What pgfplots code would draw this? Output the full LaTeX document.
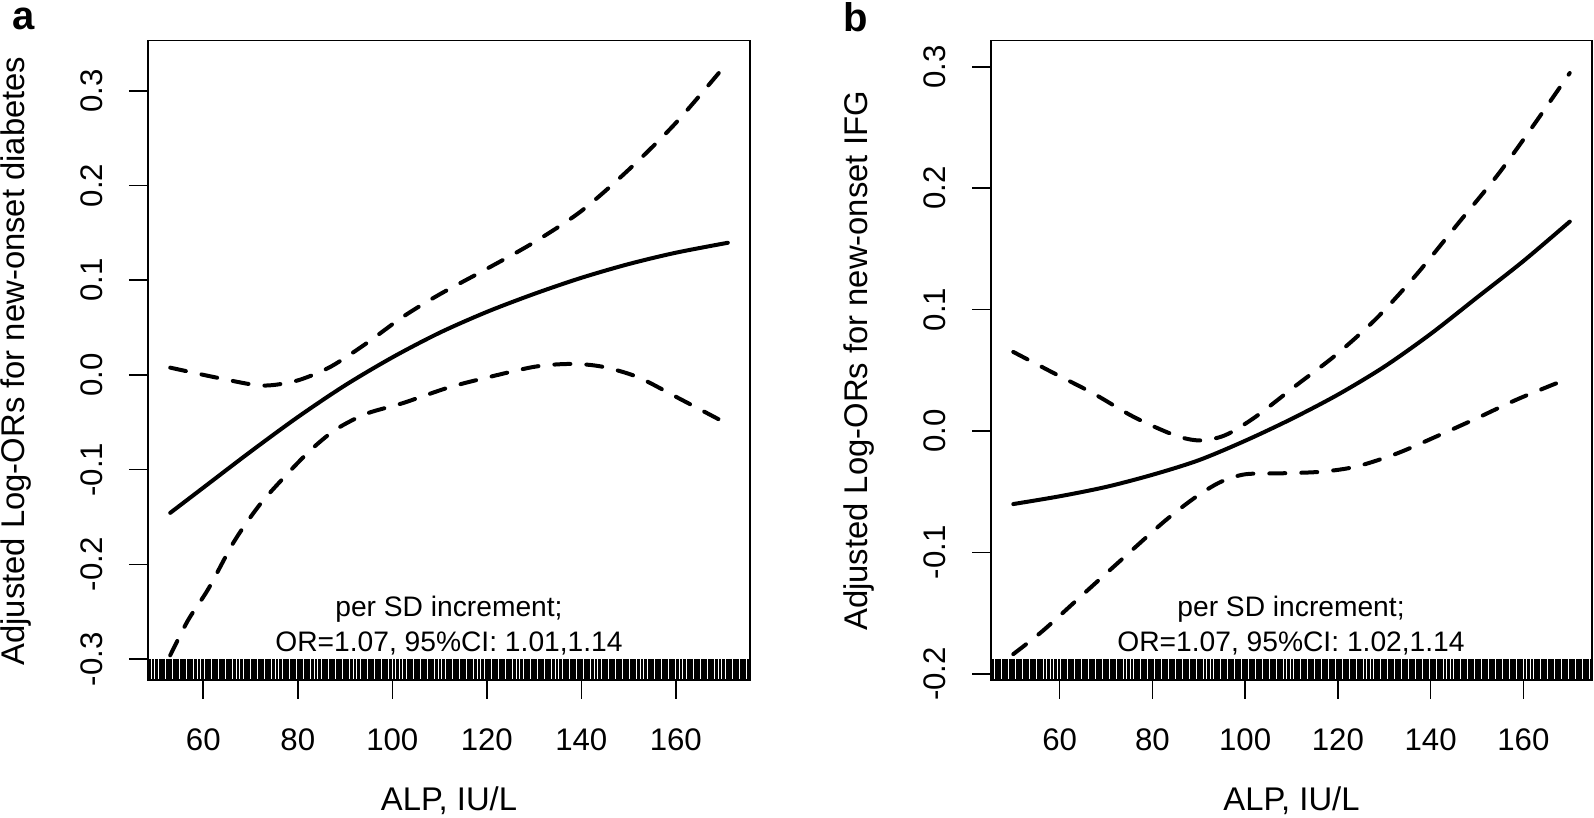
\documentclass[border=0pt]{standalone}
\usepackage{fontspec}
\setmainfont{Liberation Sans}
\usepackage{pgfplots}
\pgfplotsset{compat=1.18}
\usepackage{pgfplotstable}

% rug tick: a short vertical stroke drawn upwards from the point
\pgfdeclareplotmark{rug}{%
  \pgfpathmoveto{\pgfqpoint{0pt}{0pt}}%
  \pgfpathlineto{\pgfqpoint{0pt}{10.5pt}}%
  \pgfusepathqstroke}

\newcommand\rf{\fontsize{14.1pt}{17pt}\selectfont}   % annotation
\newcommand\tf{\fontsize{15.6pt}{18pt}\selectfont}   % tick labels
\newcommand\lf{\fontsize{16.4pt}{19pt}\selectfont}   % axis titles

% observed ALP values (rug); second column unused
\pgfplotstableread[row sep=\\]{
x y\\
45.60 0\\ 46.35 0\\ 47.10 0\\ 47.85 0\\ 48.60 0\\ 49.35 0\\ 50.10 0\\ 50.85 0\\
51.60 0\\ 52.35 0\\ 53.10 0\\ 53.85 0\\ 54.60 0\\ 55.35 0\\ 56.10 0\\ 56.85 0\\
57.60 0\\ 58.35 0\\ 59.10 0\\ 59.85 0\\ 60.60 0\\ 61.35 0\\ 62.10 0\\ 62.85 0\\
63.60 0\\ 64.35 0\\ 65.10 0\\ 65.85 0\\ 66.60 0\\ 67.35 0\\ 68.10 0\\ 68.85 0\\
69.60 0\\ 70.35 0\\ 71.10 0\\ 71.85 0\\ 72.60 0\\ 73.35 0\\ 74.10 0\\ 74.85 0\\
75.60 0\\ 76.35 0\\ 77.10 0\\ 77.85 0\\ 78.60 0\\ 79.35 0\\ 80.10 0\\ 80.85 0\\
81.60 0\\ 82.35 0\\ 83.10 0\\ 83.85 0\\ 84.60 0\\ 85.35 0\\ 86.10 0\\ 86.85 0\\
87.60 0\\ 88.35 0\\ 89.10 0\\ 89.85 0\\ 90.60 0\\ 91.35 0\\ 92.10 0\\ 92.85 0\\
93.60 0\\ 94.35 0\\ 95.10 0\\ 95.85 0\\ 96.60 0\\ 97.35 0\\ 98.10 0\\ 98.85 0\\
99.60 0\\ 100.35 0\\ 101.10 0\\ 101.85 0\\ 102.60 0\\ 103.35 0\\ 104.10 0\\ 104.85 0\\
105.60 0\\ 106.35 0\\ 107.10 0\\ 107.85 0\\ 108.60 0\\ 109.35 0\\ 110.10 0\\ 110.85 0\\
111.60 0\\ 112.35 0\\ 113.10 0\\ 113.85 0\\ 114.60 0\\ 115.35 0\\ 116.10 0\\ 116.85 0\\
117.60 0\\ 118.35 0\\ 119.10 0\\ 119.85 0\\ 120.60 0\\ 121.35 0\\ 122.10 0\\ 122.85 0\\
123.60 0\\ 124.35 0\\ 125.10 0\\ 125.85 0\\ 126.60 0\\ 127.35 0\\ 128.10 0\\ 128.85 0\\
129.60 0\\ 130.35 0\\ 131.10 0\\ 131.85 0\\ 132.60 0\\ 133.35 0\\ 134.10 0\\ 134.85 0\\
135.60 0\\ 136.35 0\\ 137.10 0\\ 137.85 0\\ 138.60 0\\ 139.35 0\\ 140.10 0\\ 140.85 0\\
141.60 0\\ 142.35 0\\ 143.10 0\\ 143.85 0\\ 144.60 0\\ 145.35 0\\ 146.10 0\\ 146.85 0\\
147.60 0\\ 148.35 0\\ 149.10 0\\ 149.85 0\\ 150.60 0\\ 151.35 0\\ 152.10 0\\ 152.85 0\\
153.60 0\\ 154.35 0\\ 155.10 0\\ 155.85 0\\ 156.60 0\\ 157.35 0\\ 158.10 0\\ 158.85 0\\
159.60 0\\ 160.35 0\\ 161.10 0\\ 161.85 0\\ 162.60 0\\ 163.35 0\\ 164.10 0\\ 164.85 0\\
165.60 0\\ 166.35 0\\ 167.10 0\\ 167.85 0\\ 168.60 0\\ 169.35 0\\ 170.10 0\\ 170.85 0\\
171.60 0\\ 172.35 0\\ 173.10 0\\ 173.85 0\\ 174.60 0\\ 175.35 0\\
}\rugdata

\pgfplotsset{
  rplot/.style={
    scale only axis, anchor=south west, height=319.65pt,
    axis line style={line width=0.8pt},
    every tick/.style={black, line width=0.8pt},
    tick align=outside, major tick length=9.5pt,
    xtick pos=bottom, ytick pos=left,
    xtick={60,80,100,120,140,160},
    xticklabels={60,80,100,120,140,160},
    xticklabel style={font=\tf, anchor=north, inner sep=0pt},
    xticklabel shift=14.5pt,
    yticklabel style={font=\tf, rotate=90, anchor=south, inner sep=0pt},
    yticklabel shift=13pt,
    clip=false,
  },
  fit/.style={black, line width=2pt, smooth, tension=0.5, line cap=round},
  ci/.style={black, line width=2pt, smooth, tension=0.5, line cap=round,
    dash pattern=on 8pt off 8pt},
  rugplot/.style={only marks, mark=rug, mark options={line width=1.45pt, line cap=butt}},
}

\begin{document}
\begin{tikzpicture}
\useasboundingbox (0,0) rectangle (797pt,409pt);

% ---------------- panel a ----------------
\begin{axis}[rplot, at={(74pt,69pt)}, width=301pt,
  xmin=48.3, xmax=175.7, ymin=-0.322, ymax=0.3528,
  ytick={-0.3,-0.2,-0.1,0,0.1,0.2,0.3},
  yticklabels={-0.3,-0.2,-0.1,0.0,0.1,0.2,0.3}]
\addplot[fit] coordinates {
 (53,-0.1456)(60,-0.119)(70,-0.081)(80,-0.0445)(90,-0.011)(100,0.0185)
 (110,0.0445)(120,0.0665)(130,0.0855)(140,0.1025)(150,0.117)(160,0.129)(171,0.1395)
};
\addplot[ci] coordinates {
 (53,0.0077)(62.2,-0.0022)(70.8,-0.0105)(75.1,-0.0105)(80.5,-0.005)(87.0,0.0088)
 (94.6,0.0336)(102.2,0.0612)(110,0.085)(120,0.112)(130,0.140)(140,0.173)
 (150,0.2165)(160,0.266)(171,0.330)
};
\addplot[ci] coordinates {
 (53,-0.296)(56.8,-0.2587)(61.1,-0.2256)(66.5,-0.176)(71.9,-0.1373)(77.3,-0.107)
 (82.7,-0.0794)(88.1,-0.0574)(94.6,-0.0408)(102.2,-0.0298)(111.9,-0.0133)(120.5,-0.0022)
 (130.3,0.0088)(137.8,0.0116)(144.3,0.0088)(151.9,-0.0022)(160.5,-0.0243)(171,-0.0519)
};
\addplot[rugplot] table[x=x, y expr=-0.322, restrict x to domain=48.5:175.5] {\rugdata};
\end{axis}

% ---------------- panel b ----------------
\begin{axis}[rplot, at={(495.5pt,69pt)}, width=300.5pt,
  xmin=45.2, xmax=174.8, ymin=-0.205, ymax=0.3215,
  ytick={-0.2,-0.1,0,0.1,0.2,0.3},
  yticklabels={-0.2,-0.1,0.0,0.1,0.2,0.3}]
\addplot[fit] coordinates {
 (50,-0.0601)(60,-0.0537)(70,-0.046)(80,-0.036)(90,-0.024)(100,-0.008)
 (110,0.010)(120,0.030)(130,0.053)(140,0.080)(150,0.110)(160,0.140)(170,0.1725)
};
\addplot[ci] coordinates {
 (50,0.0652)(58.6,0.048)(67.3,0.0309)(76.0,0.0116)(84.8,-0.0034)(90.2,-0.0077)
 (95.7,-0.0034)(102.2,0.0116)(110.9,0.0373)(119.7,0.0631)(128.4,0.0931)(137.1,0.1296)
 (145.8,0.1704)(154.5,0.2112)(162.2,0.2519)(170,0.2949)
};
\addplot[ci] coordinates {
 (50,-0.1837)(56.4,-0.1644)(65.1,-0.1343)(73.8,-0.1043)(82.6,-0.0743)(89.1,-0.055)
 (94.6,-0.0421)(100.0,-0.0356)(107.7,-0.0348)(116.4,-0.0335)(124.0,-0.0292)(132.7,-0.0185)
 (141.5,-0.004)(150.2,0.011)(158.9,0.0265)(170,0.0438)
};
\addplot[rugplot] table[x=x, y expr=-0.205, restrict x to domain=45.4:174.6] {\rugdata};
\end{axis}

% panel letters
\node[anchor=base west, inner sep=0pt, font=\bfseries\fontsize{20pt}{22pt}\selectfont] at (6pt,394pt) {a};
\node[anchor=base west, inner sep=0pt, font=\bfseries\fontsize{20pt}{22pt}\selectfont] at (421.5pt,393pt) {b};

% axis titles
\node[rotate=90, anchor=base, inner sep=0pt, font=\lf] at (12.5pt,228.5pt) {Adjusted Log-ORs for new-onset diabetes};
\node[rotate=90, anchor=base, inner sep=0pt, font=\lf] at (433.5pt,228.5pt) {Adjusted Log-ORs for new-onset IFG};
\node[anchor=base, inner sep=0pt, font=\lf] at (224.5pt,3.5pt) {ALP, IU/L};
\node[anchor=base, inner sep=0pt, font=\lf] at (645.75pt,3.5pt) {ALP, IU/L};

% effect annotations
\node[anchor=base, inner sep=0pt, font=\rf] at (224.5pt,100.5pt) {per SD increment;};
\node[anchor=base, inner sep=0pt, font=\rf] at (224.5pt,83pt) {OR=1.07, 95\%CI: 1.01,1.14};
\node[anchor=base, inner sep=0pt, font=\rf] at (645.5pt,100.5pt) {per SD increment;};
\node[anchor=base, inner sep=0pt, font=\rf] at (645.5pt,83pt) {OR=1.07, 95\%CI: 1.02,1.14};
\end{tikzpicture}
\end{document}
